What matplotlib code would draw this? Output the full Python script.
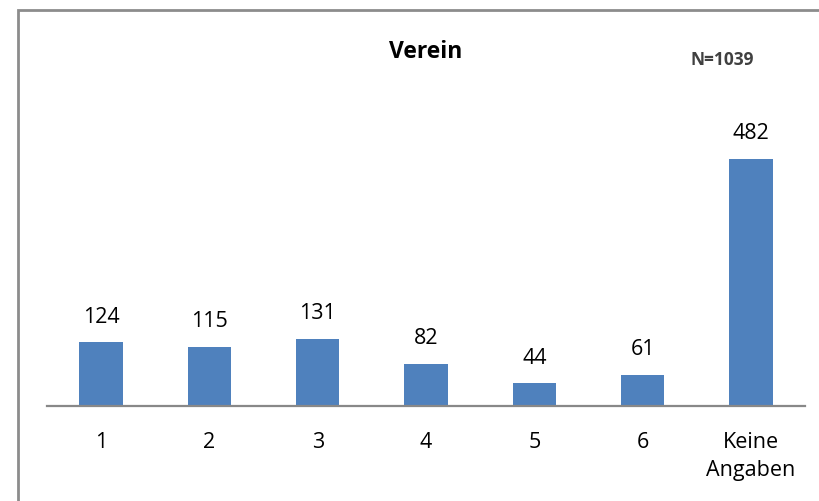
import numpy as np
from matplotlib import pyplot as plt
from matplotlib.patches import Rectangle

categories = ['1', '2', '3', '4', '5', '6', 'Keine\nAngaben']
counts = [124, 115, 131, 82, 44, 61, 482]
title = 'Verein'
n_note = 'N=1039'

plt.rcParams['font.family'] = ['Open Sans', 'DejaVu Sans']

fig = plt.figure(figsize=(8.2, 5.02), dpi=100)
W, H = 820, 502

# plot area in pixels: x 47..805, baseline at y 407
ax = fig.add_axes([47 / W, 1 - 407 / H, (805 - 47) / W, (407 - 60) / H])

ind = np.arange(len(categories))
bars = ax.bar(ind, counts, 0.4, color='#4F81BD')
ax.set_xlim(-0.5, len(categories) - 0.5)
ax.set_ylim(0, 677)

for rect, v in zip(bars, counts):
    ax.annotate(str(v), (rect.get_x() + rect.get_width() / 2, v),
                xytext=(0, 19), textcoords='offset points',
                ha='center', va='center', fontsize=15.5, color='black')

ax.set_xticks(ind)
ax.set_xticklabels(categories, fontsize=15.5, linespacing=1.45)
ax.tick_params(axis='x', length=0, pad=18)
ax.set_yticks([])
for side in ['left', 'right', 'top']:
    ax.spines[side].set_visible(False)
ax.spines['bottom'].set_color('#888888')
ax.spines['bottom'].set_linewidth(1.6)

fig.text(426 / W, 1 - 52 / H, title, ha='center', va='center',
         fontsize=16.5, fontweight='bold')
fig.text(722 / W, 1 - 60 / H, n_note, ha='center', va='center',
         fontsize=12.5, fontweight='bold', color='#404040')

# outer frame, open to the right and bottom
fig.patches.append(Rectangle((17.5 / W, -0.1), 1.2, 1 - 10.5 / H + 0.1,
                             transform=fig.transFigure, fill=False,
                             edgecolor='#8c8c8c', linewidth=2))

fig.savefig('out.png', dpi=100)
